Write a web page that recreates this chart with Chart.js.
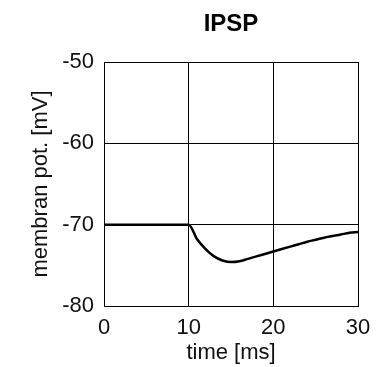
<!DOCTYPE html>
<html>
<head>
<meta charset="utf-8">
<script src="https://cdn.jsdelivr.net/npm/chart.js@4/dist/chart.umd.min.js"></script>
<style>
  html, body { margin: 0; padding: 0; background: #fff; }
  #wrap { width: 377px; height: 367px; }
</style>
</head>
<body>
<div id="wrap"><canvas id="ipsp" width="377" height="367"></canvas></div>
<script>
    // time in ms and membrane potential in mV
    const timeMs = [0, 1, 2, 3, 4, 5, 6, 7, 8, 9, 10,
      11, 12, 13, 14, 15, 16, 17, 18, 19, 20,
      21, 22, 23, 24, 25, 26, 27, 28, 29, 30];
    const membranPot = [-70, -70, -70, -70, -70, -70, -70, -70, -70, -70, -70,
      -71.8, -73.0, -73.9, -74.4, -74.6, -74.5, -74.2, -73.9, -73.6, -73.3,
      -73.0, -72.7, -72.4, -72.1, -71.85, -71.6, -71.4, -71.2, -71.0, -70.9];
    const xTicks = [0, 10, 20, 30];
    const yTicks = [-80, -70, -60, -50];

    const font = 'Liberation Sans, Arial, sans-serif';

    const data = {
      datasets: [{
        label: 'IPSP',
        data: timeMs.map((t, i) => ({ x: t, y: membranPot[i] })),
        borderColor: '#000',
        borderWidth: 2.5,
        pointRadius: 0,
        cubicInterpolationMode: 'monotone',
        fill: false
      }]
    };

    const config = {
      type: 'line',
      data: data,
      options: {
        responsive: false,
        animation: false,
        layout: { padding: { left: 0, right: 19, top: 0, bottom: 0 } },
        plugins: {
          legend: { display: false },
          tooltip: { enabled: false },
          title: { display: false }
        },
        scales: {
          // top axis only carries the title so it is centred over the plot
          top: {
            type: 'linear',
            position: 'top',
            min: xTicks[0],
            max: xTicks[xTicks.length - 1],
            afterFit: s => { s.height = 62; s.paddingLeft = 0; s.paddingRight = 0; },
            grid: { display: false, drawTicks: false },
            border: { display: false },
            ticks: { display: false },
            title: {
              display: true,
              text: 'IPSP',
              color: '#000',
              font: { family: font, size: 24, weight: 'bold' },
              padding: { top: 10, bottom: 0 }
            }
          },
          x: {
            type: 'linear',
            min: xTicks[0],
            max: xTicks[xTicks.length - 1],
            afterBuildTicks: s => { s.ticks = xTicks.map(v => ({ value: v })); },
            afterFit: s => { s.height = 61; s.paddingLeft = 0; s.paddingRight = 0; },
            grid: { color: '#000', lineWidth: 1, drawTicks: false },
            border: { color: '#000', width: 1 },
            ticks: { color: '#111', font: { family: font, size: 22 }, padding: 9, maxRotation: 0 },
            title: {
              display: true,
              text: 'time [ms]',
              color: '#111',
              font: { family: font, size: 22 },
              padding: { top: 0, bottom: 1 }
            }
          },
          y: {
            min: yTicks[0],
            max: yTicks[yTicks.length - 1],
            afterBuildTicks: s => { s.ticks = yTicks.map(v => ({ value: v })); },
            afterFit: s => { s.width = 104; },
            grid: { color: '#000', lineWidth: 1, drawTicks: false },
            border: { color: '#000', width: 1 },
            ticks: { color: '#111', font: { family: font, size: 22 }, padding: 10 },
            title: {
              display: true,
              text: 'membran pot. [mV]',
              color: '#111',
              font: { family: font, size: 22 },
              padding: { top: 28, bottom: 0 }
            }
          }
        }
      }
    };

const ipspChart = new Chart(document.getElementById('ipsp'), config);
</script>
</body>
</html>
